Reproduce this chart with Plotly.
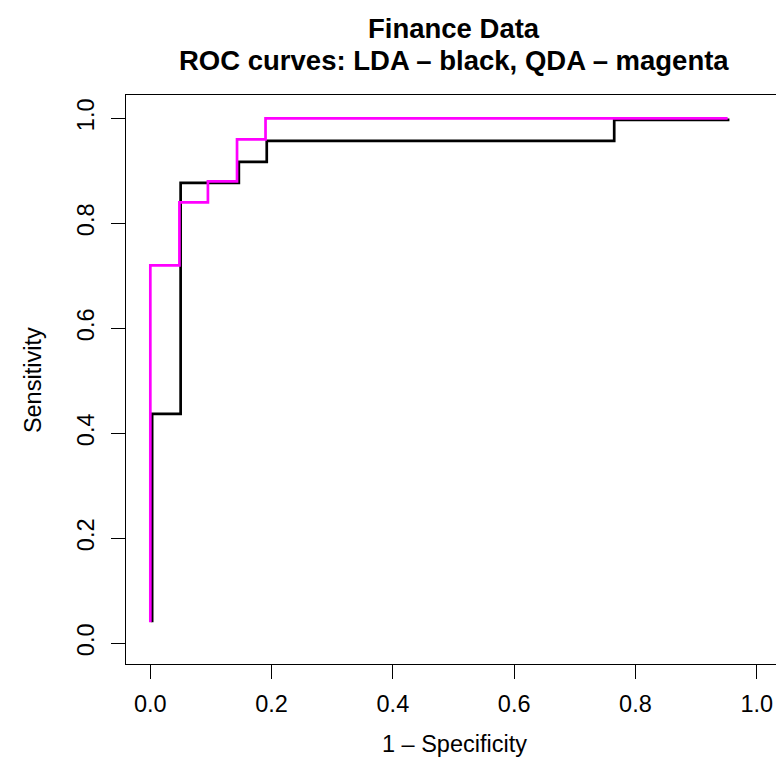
import plotly.graph_objects as go

# ROC curve points (false positive rate, true positive rate)
lda_fpr = [0.003, 0.003, 0.050, 0.146, 0.192, 0.765, 0.955]
lda_tpr = [0.040, 0.437, 0.877, 0.917, 0.957, 0.997, 0.997]

qda_fpr = [0.000, 0.000, 0.048, 0.095, 0.143, 0.190, 0.952]
qda_tpr = [0.040, 0.720, 0.840, 0.880, 0.960, 1.000, 1.000]

tick_vals = [0.0, 0.2, 0.4, 0.6, 0.8, 1.0]
tick_text = ["0.0", "0.2", "0.4", "0.6", "0.8", "1.0"]

title_lines = ["Finance Data", "ROC curves: LDA \u2013 black, QDA \u2013 magenta"]
x_title = "1 \u2013 Specificity"
y_title = "Sensitivity"

FONT = "Liberation Sans, Arial, Helvetica, sans-serif"
LABEL_SIZE = 23.5
MAIN_SIZE = 27.5

fig = go.Figure()
fig.add_trace(go.Scatter(x=lda_fpr, y=lda_tpr, mode="lines",
                         line=dict(color="black", width=2.7, shape="hv"),
                         name="LDA", showlegend=False, hoverinfo="skip"))
fig.add_trace(go.Scatter(x=qda_fpr, y=qda_tpr, mode="lines",
                         line=dict(color="#FF00FF", width=2.7, shape="hv"),
                         name="QDA", showlegend=False, hoverinfo="skip"))

axis_common = dict(
    showgrid=False, zeroline=False,
    showline=True, linecolor="black", linewidth=1,
    ticks="outside", ticklen=14, tickwidth=1, tickcolor="black",
    tickvals=tick_vals, ticktext=tick_text,
    tickfont=dict(family=FONT, size=LABEL_SIZE, color="black"),
)

fig.update_layout(
    width=776, height=779,
    margin=dict(l=126, r=0, t=95, b=115, pad=0),
    paper_bgcolor="white", plot_bgcolor="white",
    xaxis=dict(range=[-0.0401, 1.0318], mirror=True, ticklabelstandoff=5,
               **axis_common),
    yaxis=dict(range=[-0.0394, 1.0444], mirror=False, tickangle=-90,
               ticklabelstandoff=8, **axis_common),
    annotations=[
        dict(text="<b>%s</b>" % title_lines[0], xref="paper", yref="paper",
             x=0.505, y=1.116, xanchor="center", yanchor="middle",
             showarrow=False, font=dict(family=FONT, size=MAIN_SIZE, color="black")),
        dict(text="<b>%s</b>" % title_lines[1], xref="paper", yref="paper",
             x=0.505, y=1.0615, xanchor="center", yanchor="middle",
             showarrow=False, font=dict(family=FONT, size=MAIN_SIZE, color="black")),
        dict(text=x_title, xref="paper", yref="paper",
             x=0.505, y=-0.14, xanchor="center", yanchor="middle",
             showarrow=False, font=dict(family=FONT, size=LABEL_SIZE, color="black")),
        dict(text=y_title, xref="paper", yref="paper", textangle=-90,
             x=-0.143, y=0.499, xanchor="center", yanchor="middle",
             showarrow=False, font=dict(family=FONT, size=LABEL_SIZE, color="black")),
    ],
)

fig.write_html("out.html")
